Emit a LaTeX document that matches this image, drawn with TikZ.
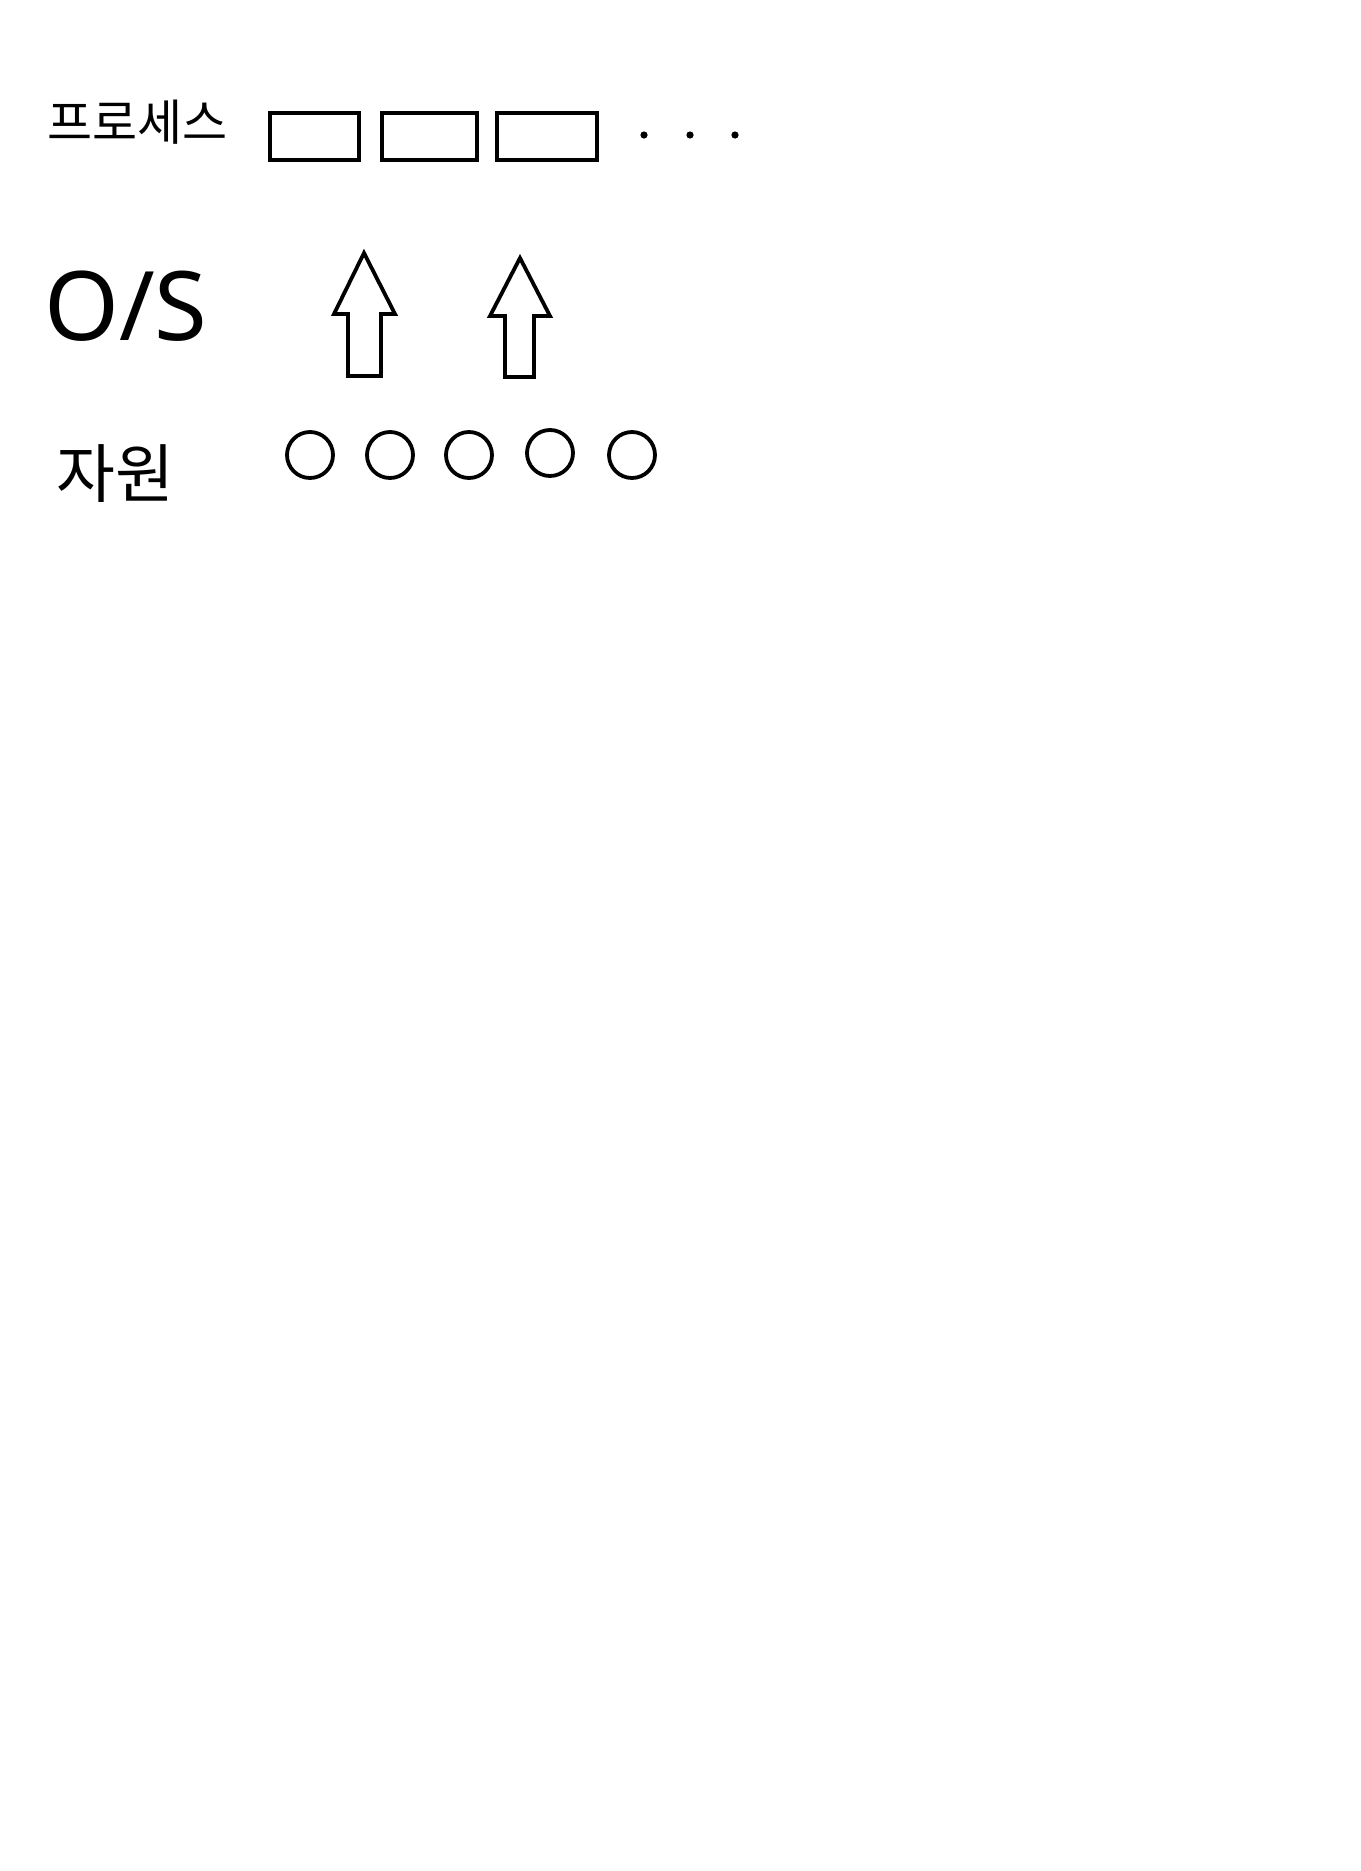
\documentclass[tikz,border=0pt]{standalone}
\usepackage{fontspec}
\newfontfamily\kr{Noto Sans CJK KR}
\newfontfamily\lat{Noto Sans}
\begin{document}
\begin{tikzpicture}[x=1pt,y=-1pt,
  lw/.style={line width=4pt},
  proc/.style={lw,draw,rectangle,inner sep=0pt},
  res/.style={draw,circle,line width=3.8pt,minimum size=46pt,inner sep=0pt},
  blockarrow/.style={draw,line width=3.8pt,line join=miter},
  lbl/.style={anchor=west,inner sep=0pt}]
\useasboundingbox[fill=white] (0,0) rectangle (1360,1871);
% labels
\node[lbl] (tproc) at (47,122) {\kr\fontsize{49}{52}\selectfont 프로세스};
\node[lbl] (tos) at (44,306) {\lat\fontsize{96}{100}\selectfont O/S};
\node[lbl] (tres) at (56,474) {\kr\fontsize{64}{68}\selectfont 자원};
% process boxes
\node[proc,minimum width=89pt,minimum height=47pt] (p1) at (314.5,136.5) {};
\node[proc,minimum width=95pt,minimum height=47pt] (p2) at (429.5,136.5) {};
\node[proc,minimum width=100pt,minimum height=47pt] (p3) at (547,136.5) {};
% dots
\fill (644,135) circle (3.6pt) (690,135) circle (3.6pt) (735,135) circle (3.6pt);
% block arrows
\draw[blockarrow] (348,376) -- (348,314) -- (334,314) -- (364,253) -- (395,314) -- (381,314) -- (381,376) -- cycle;
\draw[blockarrow] (505,377) -- (505,316) -- (490,316) -- (520,258) -- (550,316) -- (534,316) -- (534,377) -- cycle;
% resources
\node[res] (r1) at (310,455) {};
\node[res] (r2) at (390,455) {};
\node[res] (r3) at (469,455) {};
\node[res] (r4) at (550,453) {};
\node[res] (r5) at (632,455) {};
\end{tikzpicture}
\end{document}
